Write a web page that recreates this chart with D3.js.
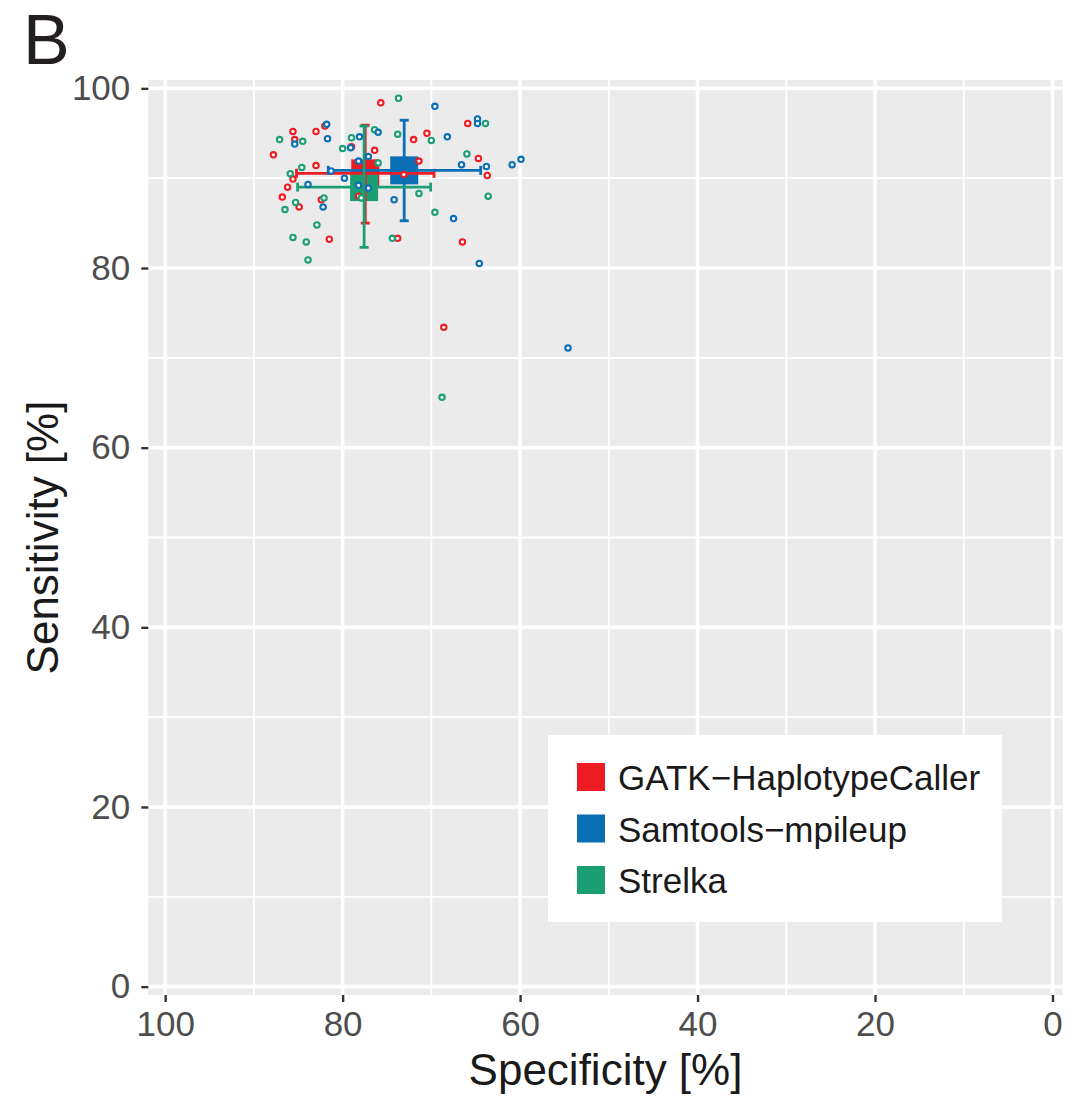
<!DOCTYPE html>
<html>
<head>
<meta charset="utf-8">
<script src="https://cdn.jsdelivr.net/npm/d3@7"></script>
<style>
  body { margin: 0; background: #fff; }
  svg { display: block; font-family: "Liberation Sans", Arial, sans-serif; }
</style>
</head>
<body>
<div id="chart"></div>
<script>
// callers and their colours
const callers = ["GATK-HaplotypeCaller", "Samtools-mpileup", "Strelka"];
const legendLabels = ["GATK\u2212HaplotypeCaller", "Samtools\u2212mpileup", "Strelka"];
const callerColors = ["#ee1d23", "#0b6fb5", "#1b9e74"];

// per-sample values
const gatkSpec = [75.7, 85.6, 83.0, 82.0, 85.4, 79.0, 76.4, 87.8, 83.0, 85.6, 72.0, 70.5, 65.9,
    64.7, 63.7, 71.4, 86.2, 78.2, 86.8, 82.4, 84.9, 81.5, 73.8, 66.5, 68.6, 73.1];
const gatkSens = [98.4, 95.2, 95.2, 95.8, 94.3, 93.5, 93.1, 92.6, 91.4, 89.9, 94.3, 95.0, 96.1,
    92.2, 90.3, 91.9, 89.0, 88.0, 87.9, 87.6, 86.8, 83.2, 83.3, 82.9, 73.4, 90.4];

const samSpec = [81.8, 85.4, 81.7, 76.0, 78.1, 79.1, 78.2, 77.1, 79.8, 68.2, 64.8, 64.8, 66.6,
    63.8, 83.9, 78.2, 77.1, 74.2, 82.2, 67.5, 64.6, 69.6, 60.9, 59.9, 54.6, 81.3];
const samSens = [96.0, 93.8, 94.4, 95.1, 94.6, 93.4, 91.9, 92.4, 90.0, 94.6, 96.6, 96.1, 91.5,
    91.3, 89.3, 89.2, 88.9, 87.6, 86.8, 85.5, 80.5, 98.0, 91.5, 92.1, 71.1, 90.8];

const strSpec = [73.7, 87.1, 84.5, 76.4, 73.8, 79.0, 80.0, 76.0, 84.6, 85.9, 70.0, 63.9, 66.0,
    77.9, 71.4, 82.1, 85.3, 86.5, 69.6, 63.6, 82.9, 85.6, 84.1, 74.4, 83.9, 68.8];
const strSens = [98.9, 94.3, 94.1, 95.4, 94.9, 94.5, 93.3, 91.7, 91.2, 90.5, 94.2, 96.1, 92.7,
    87.8, 88.3, 87.8, 87.3, 86.5, 86.2, 88.0, 84.8, 83.4, 82.9, 83.3, 80.9, 65.6];

// summary per caller (centre and error-bar ends)
const meanSpec = [77.45, 73.06, 77.58];
const meanSens = [90.54, 90.87, 89.01];
const specLow = [69.7, 64.44, 70.08];
const specHigh = [85.2, 81.62, 85.07];
const sensLow = [85.0, 85.26, 82.3];
const sensHigh = [95.9, 96.45, 95.8];

const majorTicks = [0, 20, 40, 60, 80, 100];
const minorTicks = [10, 30, 50, 70, 90];

const W = 1078, H = 1096;
const panel = {left: 148.3, right: 1062.7, top: 80, bottom: 995};

const svg = d3.select("#chart").append("svg")
    .attr("width", W)
    .attr("height", H);

const x = d3.scaleLinear()
    .domain([101.9, -1.15])
    .range([panel.left, panel.right]);
const y = d3.scaleLinear()
    .domain([-0.93, 100.93])
    .range([panel.bottom, panel.top]);

// panel background
svg.append("rect")
    .attr("x", panel.left)
    .attr("y", panel.top)
    .attr("width", panel.right - panel.left)
    .attr("height", panel.bottom - panel.top)
    .attr("fill", "#ebebec");

// grid
const grid = svg.append("g").attr("stroke", "#fff");
grid.selectAll(".vminor").data(minorTicks).enter().append("line")
    .attr("x1", d => x(d)).attr("x2", d => x(d))
    .attr("y1", panel.top).attr("y2", panel.bottom)
    .attr("stroke-width", 1.8);
grid.selectAll(".hminor").data(minorTicks).enter().append("line")
    .attr("y1", d => y(d)).attr("y2", d => y(d))
    .attr("x1", panel.left).attr("x2", panel.right)
    .attr("stroke-width", 1.8);
grid.selectAll(".vmajor").data(majorTicks).enter().append("line")
    .attr("x1", d => x(d)).attr("x2", d => x(d))
    .attr("y1", panel.top).attr("y2", panel.bottom)
    .attr("stroke-width", 3.6);
grid.selectAll(".hmajor").data(majorTicks).enter().append("line")
    .attr("y1", d => y(d)).attr("y2", d => y(d))
    .attr("x1", panel.left).attr("x2", panel.right)
    .attr("stroke-width", 3.6);

// summary table
const summary = callers.map((c, i) => ({
    caller: c, color: callerColors[i],
    sx: meanSpec[i], sy: meanSens[i],
    x0: specLow[i], x1: specHigh[i], y0: sensLow[i], y1: sensHigh[i]
}));

const sq = 28;
svg.append("g").selectAll("rect").data(summary).enter().append("rect")
    .attr("x", d => x(d.sx) - sq / 2)
    .attr("y", d => y(d.sy) - sq / 2)
    .attr("width", sq)
    .attr("height", sq)
    .attr("fill", d => d.color);

const bars = svg.append("g").attr("stroke-width", 2.8).attr("fill", "none");
summary.forEach(d => {
    const g = bars.append("g").attr("stroke", d.color);
    const cap = 4.5;
    // horizontal bar
    g.append("line").attr("x1", x(d.x0)).attr("x2", x(d.x1)).attr("y1", y(d.sy)).attr("y2", y(d.sy));
    g.append("line").attr("x1", x(d.x0)).attr("x2", x(d.x0)).attr("y1", y(d.sy) - cap).attr("y2", y(d.sy) + cap);
    g.append("line").attr("x1", x(d.x1)).attr("x2", x(d.x1)).attr("y1", y(d.sy) - cap).attr("y2", y(d.sy) + cap);
    // vertical bar
    g.append("line").attr("x1", x(d.sx)).attr("x2", x(d.sx)).attr("y1", y(d.y0)).attr("y2", y(d.y1));
    g.append("line").attr("y1", y(d.y0)).attr("y2", y(d.y0)).attr("x1", x(d.sx) - cap).attr("x2", x(d.sx) + cap);
    g.append("line").attr("y1", y(d.y1)).attr("y2", y(d.y1)).attr("x1", x(d.sx) - cap).attr("x2", x(d.sx) + cap);
});

// sample points
const points = [];
[[gatkSpec, gatkSens], [strSpec, strSens], [samSpec, samSens]].forEach((pair, k) => {
    const ci = [0, 2, 1][k];
    pair[0].forEach((v, j) => points.push({spec: v, sens: pair[1][j], color: callerColors[ci]}));
});

svg.append("g").selectAll("circle").data(points).enter().append("circle")
    .attr("cx", d => x(d.spec))
    .attr("cy", d => y(d.sens))
    .attr("r", 2.7)
    .attr("fill", "#fff")
    .attr("stroke", d => d.color)
    .attr("stroke-width", 2.1);

// axes
const xAxis = d3.axisBottom(x).tickValues(majorTicks).tickSize(7).tickPadding(9);
const yAxis = d3.axisLeft(y).tickValues(majorTicks).tickSize(7).tickPadding(11);

const gx = svg.append("g")
    .attr("transform", `translate(0, ${panel.bottom})`)
    .call(xAxis);
const gy = svg.append("g")
    .attr("transform", `translate(${panel.left}, 0)`)
    .call(yAxis);

[gx, gy].forEach(g => {
    g.select(".domain").remove();
    g.selectAll(".tick line").attr("stroke", "#333").attr("stroke-width", 2.4);
    g.selectAll(".tick text")
        .attr("fill", "#4d4d4d")
        .attr("font-size", 35)
        .attr("font-family", "Liberation Sans, Arial, sans-serif");
});

// axis titles
svg.append("text")
    .attr("x", (panel.left + panel.right) / 2)
    .attr("y", 1085)
    .attr("text-anchor", "middle")
    .attr("font-size", 44)
    .attr("fill", "#1a1a1a")
    .text("Specificity [%]");

svg.append("text")
    .attr("transform", `translate(58, ${(panel.top + panel.bottom) / 2}) rotate(-90)`)
    .attr("text-anchor", "middle")
    .attr("font-size", 44)
    .attr("fill", "#1a1a1a")
    .text("Sensitivity [%]");

// panel tag
svg.append("text")
    .attr("x", 23)
    .attr("y", 64)
    .attr("font-size", 70)
    .attr("fill", "#231f20")
    .text("B");

// legend
const legend = svg.append("g").attr("transform", "translate(548, 735)");
legend.append("rect")
    .attr("width", 454)
    .attr("height", 187)
    .attr("fill", "#fff");
const items = legend.selectAll(".item").data(legendLabels).enter().append("g")
    .attr("transform", (d, i) => `translate(29, ${28 + i * 51.5})`);
items.append("rect")
    .attr("width", 28)
    .attr("height", 28)
    .attr("fill", (d, i) => callerColors[i]);
items.append("text")
    .attr("x", 41)
    .attr("y", 27)
    .attr("font-size", 35)
    .attr("fill", "#1a1a1a")
    .text(d => d);
</script>
</body>
</html>
